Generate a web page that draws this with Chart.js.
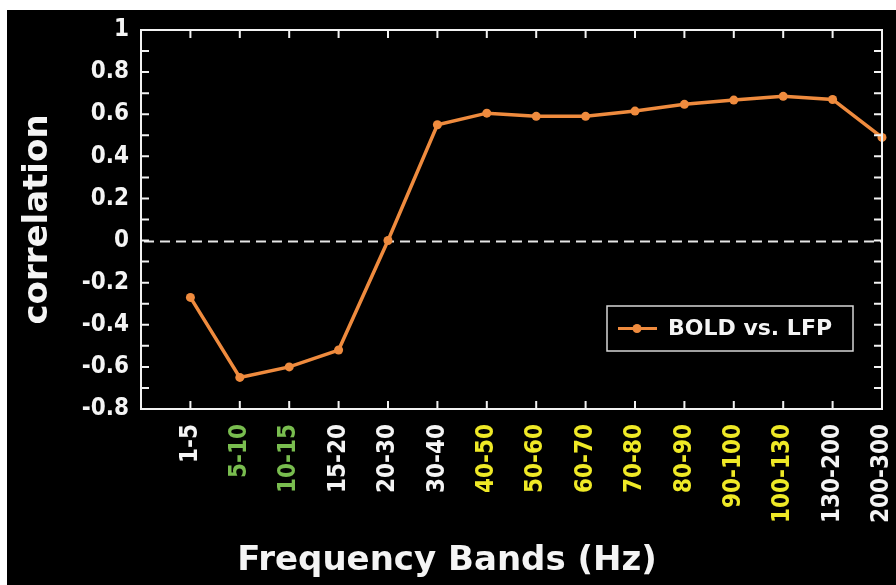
<!DOCTYPE html>
<html>
<head>
<meta charset="utf-8">
<script src="https://cdn.jsdelivr.net/npm/chart.js@4.4.1/dist/chart.umd.min.js"></script>
<style>
  html, body { margin: 0; padding: 0; background: #fff; }
  #wrap { width: 896px; height: 585px; position: relative; }
</style>
</head>
<body>
<div id="wrap"><canvas id="c" width="896" height="585"></canvas></div>
<script>
// Frequency bands (Hz) on the x axis
const bands = ['1-5', '5-10', '10-15', '15-20', '20-30', '30-40', '40-50', '50-60',
  '60-70', '70-80', '80-90', '90-100', '100-130', '130-200', '200-300'];
// Correlation between BOLD signal and LFP power per band
const correlation = [-0.27, -0.65, -0.60, -0.52, 0.0, 0.55, 0.605, 0.59,
  0.59, 0.615, 0.647, 0.667, 0.685, 0.67, 0.49];
// Colour group of each band label
const bandGroup = ['w', 'g', 'g', 'w', 'w', 'w', 'y', 'y', 'y', 'y', 'y', 'y', 'y', 'w', 'w'];
// Y axis range and labelled ticks
const yMin = -0.8, yMax = 1.0, yStep = 0.2, yMinorStep = 0.1;

const groupColor = { w: '#f4f4f4', g: '#79bd4f', y: '#efe926' };
const lineColor = '#ef8b3e';
const condensed = '"DejaVu Sans Condensed", "DejaVu Sans", sans-serif';
const regular = '"DejaVu Sans", sans-serif';

const framePlugin = {
  id: 'frame',
  beforeDraw(chart) {
    const ctx = chart.ctx;
    ctx.save();
    ctx.fillStyle = '#ffffff';
    ctx.fillRect(0, 0, chart.width, chart.height);
    ctx.fillStyle = '#000000';
    ctx.fillRect(7, 10, chart.width - 7, chart.height - 10);
    ctx.restore();
  },
  beforeDatasetsDraw(chart) {
    // dashed zero line
    const { ctx, chartArea: a, scales: { y } } = chart;
    const y0 = Math.round(y.getPixelForValue(0)) + 0.5;
    ctx.save();
    ctx.strokeStyle = '#e6e6e6';
    ctx.lineWidth = 2;
    ctx.setLineDash([10, 6]);
    ctx.beginPath();
    ctx.moveTo(a.left + 3, y0);
    ctx.lineTo(a.right, y0);
    ctx.stroke();
    ctx.restore();
  },
  afterDraw(chart) {
    const { ctx, chartArea: a, scales: { x, y } } = chart;
    ctx.save();
    ctx.strokeStyle = '#f2f2f2';
    ctx.lineWidth = 2;
    ctx.strokeRect(a.left, a.top, a.right - a.left, a.bottom - a.top);
    // inward tick marks
    const tl = 8;
    ctx.beginPath();
    for (let i = 0; i < bands.length; i++) {
      const px = x.getPixelForValue(i);
      ctx.moveTo(px, a.bottom); ctx.lineTo(px, a.bottom - tl);
      ctx.moveTo(px, a.top); ctx.lineTo(px, a.top + tl);
    }
    const n = Math.round((yMax - yMin) / yMinorStep);
    for (let k = 1; k < n; k++) {
      const py = y.getPixelForValue(yMin + k * yMinorStep);
      ctx.moveTo(a.left, py); ctx.lineTo(a.left + tl, py);
      ctx.moveTo(a.right, py); ctx.lineTo(a.right - tl, py);
    }
    ctx.stroke();

    // legend
    const ds = chart.data.datasets[0];
    const lx = 607, ly = 306, lw = 246, lh = 45;
    ctx.strokeStyle = '#d6d6d6';
    ctx.lineWidth = 1.5;
    ctx.strokeRect(lx, ly, lw, lh);
    const cy = ly + lh / 2;
    ctx.strokeStyle = lineColor;
    ctx.lineWidth = 3;
    ctx.beginPath();
    ctx.moveTo(lx + 11, cy); ctx.lineTo(lx + 50, cy);
    ctx.stroke();
    ctx.fillStyle = lineColor;
    ctx.beginPath();
    ctx.arc(lx + 30, cy, 4.5, 0, Math.PI * 2);
    ctx.fill();
    ctx.fillStyle = '#f4f4f4';
    ctx.font = 'bold 22px ' + regular;
    ctx.textAlign = 'left';
    ctx.textBaseline = 'middle';
    ctx.fillText(ds.label, lx + 61, cy + 1);

    // x axis title
    ctx.font = 'bold 34px ' + regular;
    ctx.textAlign = 'center';
    ctx.textBaseline = 'alphabetic';
    ctx.fillText('Frequency Bands (Hz)', 447, 570);
    ctx.restore();
  }
};

new Chart(document.getElementById('c'), {
  type: 'line',
  data: {
    datasets: [{
      label: 'BOLD vs. LFP',
      data: correlation.map((v, i) => ({ x: i, y: v })),
      borderColor: lineColor,
      backgroundColor: lineColor,
      borderWidth: 3.5,
      pointRadius: 4.5,
      pointHoverRadius: 4.5,
      pointBorderWidth: 0,
      tension: 0
    }]
  },
  options: {
    responsive: false,
    animation: false,
    clip: false,
    layout: { padding: { top: 30, right: 14, left: 0, bottom: 0 } },
    plugins: { legend: { display: false }, tooltip: { enabled: false } },
    scales: {
      x: {
        type: 'linear',
        min: -1,
        max: bands.length - 1,
        grid: { display: false, drawTicks: false },
        border: { display: false },
        afterFit(s) { s.height = 176; s.paddingLeft = 0; s.paddingRight = 0; },
        ticks: {
          stepSize: 1,
          autoSkip: false,
          minRotation: 90,
          maxRotation: 90,
          padding: 15,
          font: { family: condensed, size: 24, weight: 'bold' },
          color: (c) => {
            const i = Math.round(c.tick.value);
            return i >= 0 ? groupColor[bandGroup[i]] : '#f4f4f4';
          },
          callback: (v) => (Number.isInteger(v) && v >= 0 && v < bands.length) ? bands[v] : ''
        }
      },
      y: {
        min: yMin,
        max: yMax,
        grid: { display: false, drawTicks: false },
        border: { display: false },
        afterFit(s) { s.width = 141; s.paddingTop = 0; s.paddingBottom = 0; },
        title: {
          display: true,
          text: 'correlation',
          color: '#f4f4f4',
          font: { family: regular, size: 34, weight: 'bold', lineHeight: 1.2 },
          padding: { top: 18, bottom: 0 }
        },
        ticks: {
          stepSize: yStep,
          padding: 12,
          color: '#f4f4f4',
          font: { family: condensed, size: 24, weight: 'bold' },
          callback: (v) => {
            const r = Math.round(v * 10) / 10;
            return r === 0 ? '0' : String(r);
          }
        }
      }
    }
  },
  plugins: [framePlugin]
});
</script>
</body>
</html>
